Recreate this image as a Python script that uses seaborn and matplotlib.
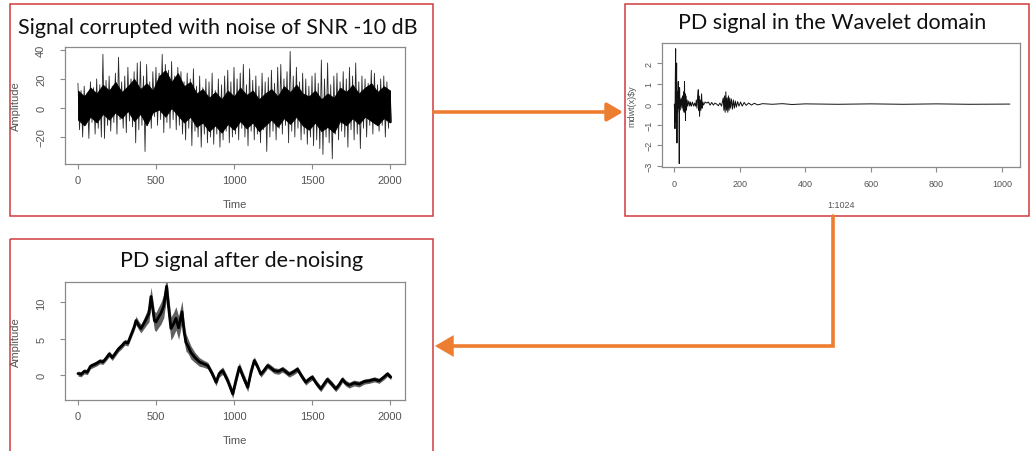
import numpy as np
import pandas as pd
import matplotlib
matplotlib.use("Agg")
import matplotlib.pyplot as plt
from matplotlib.patches import Rectangle, FancyArrowPatch
from matplotlib.path import Path
import seaborn as sns

# ---------------- data ----------------
# Panel 1: noisy signal, spike tops / bottoms every 20 time units
noise_hi = [17, 12, 15, 10, 18, 14, 20, 16, 37, 19, 22, 15, 24, 35, 18, 22, 28, 20, 25, 31,
            32, 22, 30, 18, 25, 28, 24, 37, 30, 26, 32, 22, 28, 25, 18, 24, 20, 27, 15, 22,
            14, 20, 18, 24, 12, 20, 16, 22, 26, 18, 28, 20, 24, 30, 16, 27, 19, 22, 15, 24,
            18, 21, 26, 17, 28, 30, 20, 25, 39, 22, 28, 18, 24, 20, 15, 22, 24, 17, 33, 20,
            31, 16, 22, 24, 18, 25, 20, 28, 22, 31, 18, 22, 20, 17, 26, 24, 16, 20, 22, 18, 12]
noise_lo = [-15, -20, -12, -21, -10, -18, -14, -20, -21, -12, -16, -10, -18, -8, -14, -17, -9, -13, -24, -15,
            -12, -30, -10, -14, -6, -12, -8, -17, -10, -14, -8, -15, -12, -18, -22, -14, -26, -16, -20, -27,
            -18, -24, -20, -25, -18, -27, -22, -16, -24, -20, -18, -22, -14, -20, -26, -16, -22, -18, -24, -15,
            -30, -20, -16, -22, -14, -18, -12, -24, -16, -20, -14, -22, -18, -25, -20, -26, -22, -28, -32, -20,
            -24, -35, -18, -22, -16, -20, -27, -15, -22, -18, -28, -14, -20, -12, -18, -10, -16, -12, -20, -14, -10]
noise_step = 20
# dense core of the noisy signal, every 40 time units
core_hi = [12, 8, 14, 10, 16, 12, 18, 11, 15, 20, 13, 17, 12, 22, 26, 18, 24, 15, 18, 10,
           13, 7, 11, 6, 12, 8, 14, 9, 12, 6, 10, 13, 8, 15, 11, 16, 10, 8, 12, 6,
           10, 7, 14, 11, 16, 10, 14, 17, 11, 15, 12]
core_lo = [-8, -12, -6, -10, -4, -8, -3, -7, -2, -9, -4, -12, -3, -1, -6, 0, -5, -10, -6, -13,
           -10, -16, -12, -17, -11, -15, -9, -14, -10, -16, -12, -8, -13, -7, -11, -6, -12, -15, -10, -16,
           -13, -17, -9, -12, -7, -11, -6, -9, -12, -7, -10]
core_step = 40

# Panel 2: wavelet coefficients
wav_idx = [1, 3, 4, 5, 6, 7, 8, 9, 10, 11, 12, 13, 14, 15, 16, 17, 18, 19, 20, 22, 24, 26, 28, 30, 31,
           32, 33, 34, 35, 36, 38, 40, 42, 45, 48, 50, 53, 56, 60, 63, 66, 68, 70, 72, 74, 75, 76, 78,
           80, 82, 84, 86, 88, 90, 95, 100, 105, 110, 115, 120, 125, 130, 135, 140, 145, 150, 152, 154,
           156, 158, 160, 162, 164, 166, 168, 170, 172, 175, 178, 181, 184, 187, 190, 194, 198, 203,
           208, 214, 220, 228, 236, 245, 255, 270, 300, 330, 360, 400, 500, 600, 700, 800, 900, 1024]
wav_val = [0, -1.2, 1.2, 2.7, -0.9, 0.3, 2.0, -1.9, 0.6, -0.4, 0.2, 1.1, -0.2, 0.5, -2.9, 0.8, -0.3,
           0.2, -0.1, 0.3, -0.2, 0.4, -0.3, 0.6, -0.4, 1.1, -0.2, 0.5, -0.8, 0.4, -0.3, 0.2, -0.1,
           0.15, -0.1, 0.1, -0.1, 0.1, -0.1, 0.05, -0.1, 0.2, -0.2, 0.3, 0.7, -0.3, 0.4, -0.6, 0.2,
           -0.3, 0.5, -0.2, 0.1, -0.05, 0.1, 0.05, 0.1, -0.05, 0.08, -0.05, 0.05, 0.0, -0.08, 0.05,
           -0.1, 0.3, -0.3, 0.4, -0.4, 0.6, -0.3, 0.3, -0.4, 0.4, -0.3, 0.3, -0.2, 0.25, -0.25, 0.2,
           -0.2, 0.15, -0.15, 0.12, -0.1, 0.1, -0.1, 0.08, -0.06, 0.05, -0.05, 0.04, -0.04, 0.02,
           -0.01, 0.02, -0.02, 0.01, -0.01, 0.01, -0.01, 0.01, -0.01, 0.0]

# Panel 3: de-noised signal (centre line and half-width of the grey band)
den_t = [0, 20, 40, 60, 80, 100, 120, 140, 160, 180, 200, 220, 240, 260, 280, 300, 320, 340, 360,
         372, 390, 404, 420, 440, 455, 468, 480, 490, 500, 515, 532, 550, 568, 580, 596, 610, 628,
         645, 667, 680, 692, 705, 724, 750, 778, 800, 832, 860, 885, 905, 928, 960, 992, 1015, 1034,
         1060, 1088, 1110, 1130, 1150, 1172, 1195, 1215, 1235, 1258, 1285, 1311, 1330, 1353, 1380,
         1407, 1435, 1460, 1480, 1502, 1530, 1556, 1575, 1598, 1625, 1652, 1675, 1695, 1715, 1738,
         1770, 1802, 1835, 1866, 1900, 1930, 1960, 1983, 2005]
den_val = [0.2, 0.1, 0.5, 0.4, 1.2, 1.4, 1.6, 1.9, 1.8, 2.3, 2.9, 2.4, 3.0, 3.6, 4.0, 4.5, 4.4, 5.5,
           6.6, 7.5, 6.8, 6.4, 7.0, 7.8, 8.5, 10.8, 9.0, 7.5, 7.3, 7.9, 8.5, 9.5, 12.2, 9.5, 6.4, 6.9,
           7.8, 6.5, 8.7, 6.0, 4.5, 4.0, 3.1, 2.4, 1.8, 1.6, 1.3, 0.2, -1.0, 0.2, 0.6, -0.8, -2.6,
           -0.5, 1.1, -0.3, -1.7, 0.5, 2.0, 1.2, 0.1, 0.7, 1.3, 1.0, 0.6, 0.5, 0.8, 0.5, 0.1, 0.4,
           0.8, -0.2, -1.0, -0.6, -0.3, -1.2, -1.9, -1.3, -0.6, -1.2, -1.9, -1.3, -0.6, -1.1, -1.4,
           -1.1, -1.25, -0.9, -0.8, -0.6, -0.8, -0.3, 0.15, -0.3]
den_half = [0.35, 0.35, 0.35, 0.35, 0.35, 0.35, 0.35, 0.35, 0.35, 0.35, 0.4, 0.4, 0.4, 0.4, 0.4,
            0.4, 0.4, 0.45, 0.5, 0.6, 0.6, 0.6, 0.7, 0.9, 1.2, 1.3, 1.4, 1.3, 1.3, 1.4, 1.5, 1.6,
            1.5, 1.6, 1.6, 1.6, 1.6, 1.6, 1.5, 1.4, 1.2, 1.0, 0.9, 0.7, 0.6, 0.5, 0.45, 0.45, 0.5,
            0.5, 0.5, 0.55, 0.6, 0.6, 0.6, 0.6, 0.6, 0.55, 0.5, 0.45, 0.4, 0.4, 0.4, 0.4, 0.4, 0.4,
            0.4, 0.4, 0.4, 0.4, 0.4, 0.4, 0.4, 0.4, 0.4, 0.4, 0.4, 0.4, 0.4, 0.4, 0.4, 0.4, 0.4,
            0.4, 0.4, 0.4, 0.4, 0.35, 0.35, 0.35, 0.35, 0.35, 0.35, 0.35]

titles = ["Signal corrupted with noise of SNR -10 dB",
          "PD signal in the Wavelet domain",
          "PD signal after de-noising"]

# ---------------- figure ----------------
sns.set_theme(style="white")
plt.rcParams["font.family"] = ["Liberation Sans", "DejaVu Sans"]

W, H = 1030, 452
fig = plt.figure(figsize=(W / 100, H / 100), dpi=100)

# overlay axes in pixel coordinates for boxes and arrows
ov = fig.add_axes([0, 0, 1, 1], zorder=0)
ov.set_xlim(0, W)
ov.set_ylim(H, 0)
ov.axis("off")

red = "#d23c3c"
for (x0, y0, x1, y1) in [(10, 5, 433, 217), (625, 5, 1029, 217), (10, 240, 433, 455)]:
    ov.add_patch(Rectangle((x0, y0), x1 - x0, y1 - y0, fill=False, ec=red, lw=1.1))

orange = "#ed7d31"
astyle = "-|>,head_length=6,head_width=3.5"
ov.add_patch(FancyArrowPatch((434, 113), (623, 113), arrowstyle=astyle,
                             color=orange, lw=2.6, mutation_scale=1.6, shrinkA=0, shrinkB=0))
p2 = Path([(833, 217), (833, 347), (435, 347)], [Path.MOVETO, Path.LINETO, Path.LINETO])
ov.add_patch(FancyArrowPatch(path=p2, arrowstyle=astyle, color=orange, lw=2.6,
                             mutation_scale=1.6, shrinkA=0, shrinkB=0, joinstyle="miter"))


def px_axes(x0, y0, x1, y1):
    return fig.add_axes([x0 / W, 1 - y1 / H, (x1 - x0) / W, (y1 - y0) / H], zorder=2)


tick_col = "#555555"
spine_col = "#8a8a8a"


def style(ax, xpad, ypad, xlabel, ylabel, xlab_y, ylab_x, fs=8):
    for s in ax.spines.values():
        s.set_color(spine_col)
        s.set_linewidth(0.9)
    ax.tick_params(axis="both", which="both", direction="out", length=3.5, width=0.8,
                   color=spine_col, labelcolor=tick_col, labelsize=fs)
    ax.tick_params(axis="x", pad=xpad, bottom=True)
    ax.tick_params(axis="y", pad=ypad, left=True, labelrotation=90)
    for lab in ax.get_yticklabels():
        lab.set_va("center")
    ax.set_xlabel(xlabel, fontsize=fs, color=tick_col)
    ax.set_ylabel(ylabel, fontsize=fs, color=tick_col)
    ax.xaxis.set_label_coords(0.5, xlab_y)
    ax.yaxis.set_label_coords(ylab_x, 0.5)
    ax.patch.set_alpha(0)


# ---- panel 1 ----
ax1 = px_axes(65, 48, 405, 165)
n = min(len(noise_hi), len(noise_lo))
tz = np.ravel([[i * noise_step, i * noise_step + noise_step / 2] for i in range(n)])
yz = np.ravel([[noise_hi[i], noise_lo[i]] for i in range(n)])
m = min(len(core_hi), len(core_lo))
tc = np.arange(m) * core_step
sns.lineplot(x=tz, y=yz, ax=ax1, color="#2a2a2a", lw=0.6, estimator=None, sort=False)
ax1.fill_between(tc, core_lo[:m], core_hi[:m], color="black", lw=0.6, edgecolor="black", zorder=3)
ax1.set_xlim(-83, 2096)
ax1.set_ylim(-38.6, 42)
ax1.set_xticks([0, 500, 1000, 1500, 2000])
ax1.set_yticks([-20, 0, 20, 40])
style(ax1, 4.5, 10, "Time", "Amplitude", -0.30, -0.13)

# ---- panel 2 ----
ax2 = px_axes(662, 44, 1020, 168)
sns.lineplot(x=wav_idx, y=wav_val, ax=ax2, color="#111111", lw=0.7, estimator=None, sort=False)
ax2.set_xlim(-36.6, 1055)
ax2.set_ylim(-3.07, 2.98)
ax2.set_xticks([0, 200, 400, 600, 800, 1000])
ax2.set_yticks([-3, -2, -1, 0, 1, 2])
style(ax2, 5, 2.5, "1:1024", "mdwt(x)$y", -0.27, -0.072, fs=6.5)

# ---- panel 3 ----
ax3 = px_axes(65, 283, 405, 401)
k = min(len(den_t), len(den_val), len(den_half))
t3 = np.array(den_t[:k])
v3 = np.array(den_val[:k])
h3 = np.array(den_half[:k])
ax3.fill_between(t3, v3 - h3, v3 + h3, color="#606060", lw=0)
sns.lineplot(x=t3, y=v3, ax=ax3, color="black", lw=2.0, estimator=None, sort=False)
ax3.set_xlim(-83, 2096)
ax3.set_ylim(-3.44, 12.8)
ax3.set_xticks([0, 500, 1000, 1500, 2000])
ax3.set_yticks([0, 5, 10])
style(ax3, 4.5, 10, "Time", "Amplitude", -0.30, -0.13)

# ---- titles ----
tfont = ["Lato", "DejaVu Sans"]
fs_t = 15.5
fig.text(218 / W, 1 - 28 / H, titles[0], ha="center", va="center", fontsize=fs_t, family=tfont, color="#111111")
fig.text(832 / W, 1 - 23 / H, titles[1], ha="center", va="center", fontsize=fs_t, family=tfont, color="#111111")
fig.text(242 / W, 1 - 261 / H, titles[2], ha="center", va="center", fontsize=fs_t, family=tfont, color="#111111")

fig.savefig("out.png", dpi=100)
